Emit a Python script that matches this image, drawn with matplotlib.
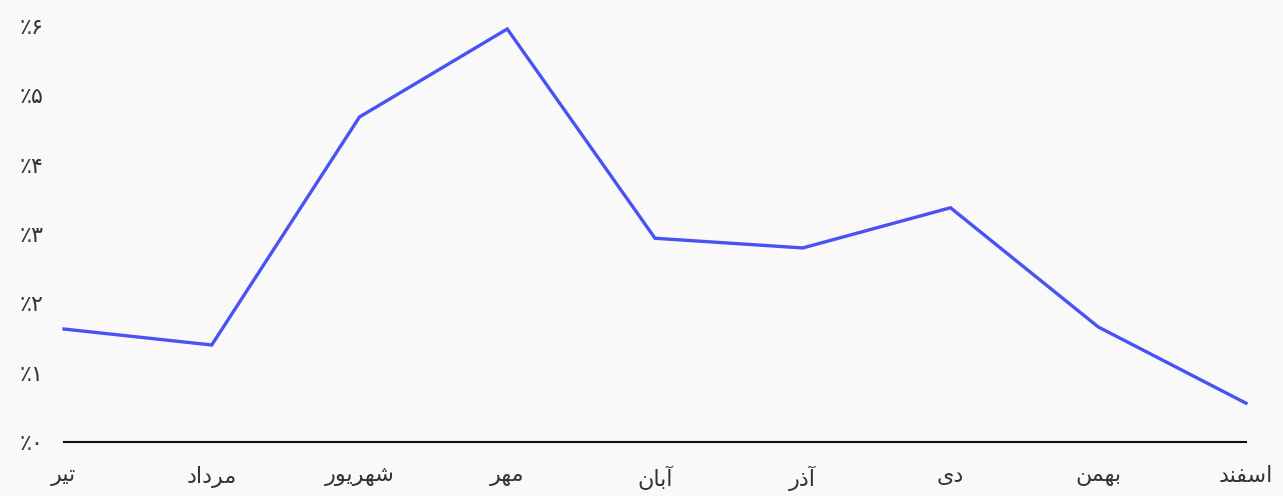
import matplotlib
matplotlib.use("Agg")
import matplotlib.pyplot as plt

# month names written in Arabic presentation forms, visual (left-to-right) order
months = [
    "\uFEAE\uFEF4\uFE97",                      # tir
    "\uFEA9\uFE8D\uFEA9\uFEAE\uFEE3",          # mordad
    "\uFEAD\uFEEE\uFEF3\uFEAE\uFEEC\uFEB7",    # shahrivar
    "\uFEAE\uFEEC\uFEE3",                      # mehr
    "\uFEE5\uFE8E\uFE91\uFE81",                # aban
    "\uFEAD\uFEAB\uFE81",                      # azar
    "\uFEEF\uFEA9",                            # dey
    "\uFEE6\uFEE4\uFEEC\uFE91",                # bahman
    "\uFEAA\uFEE8\uFED4\uFEB3\uFE8D",          # esfand
]
values = [1.63, 1.40, 4.69, 5.96, 2.94, 2.80, 3.38, 1.66, 0.56]
yticks = [0, 1, 2, 3, 4, 5, 6]
ytick_labels = ["\u066A\u06F0", "\u066A\u06F1", "\u066A\u06F2", "\u066A\u06F3",
                "\u066A\u06F4", "\u066A\u06F5", "\u066A\u06F6"]

bg = "#f9f9f9"
fig = plt.figure(figsize=(12.83, 4.96), dpi=100, facecolor=bg)
ax = fig.add_axes([64 / 1283, 54 / 496, (1246 - 64) / 1283, (442 - 4) / 496])
ax.set_facecolor(bg)

x = list(range(len(months)))
ax.plot(x, values, color="#4a52f2", linewidth=2.4, solid_joinstyle="miter", clip_on=False)

ax.set_xlim(0, len(months) - 1)
ax.set_ylim(0, 6.32)
ax.set_xticks(x)
ax.set_xticklabels(months, fontsize=16, color="#333333", family="DejaVu Sans")
ax.set_yticks(yticks)
ax.set_yticklabels(ytick_labels, fontsize=16, color="#333333", family="DejaVu Sans")
ax.tick_params(axis="both", length=0)
ax.tick_params(axis="x", pad=17)
ax.tick_params(axis="y", pad=15)

for s in ["top", "right", "left"]:
    ax.spines[s].set_visible(False)
ax.spines["bottom"].set_color("#111111")
ax.spines["bottom"].set_linewidth(1.5)

fig.savefig("out.png", dpi=100, facecolor=bg)
